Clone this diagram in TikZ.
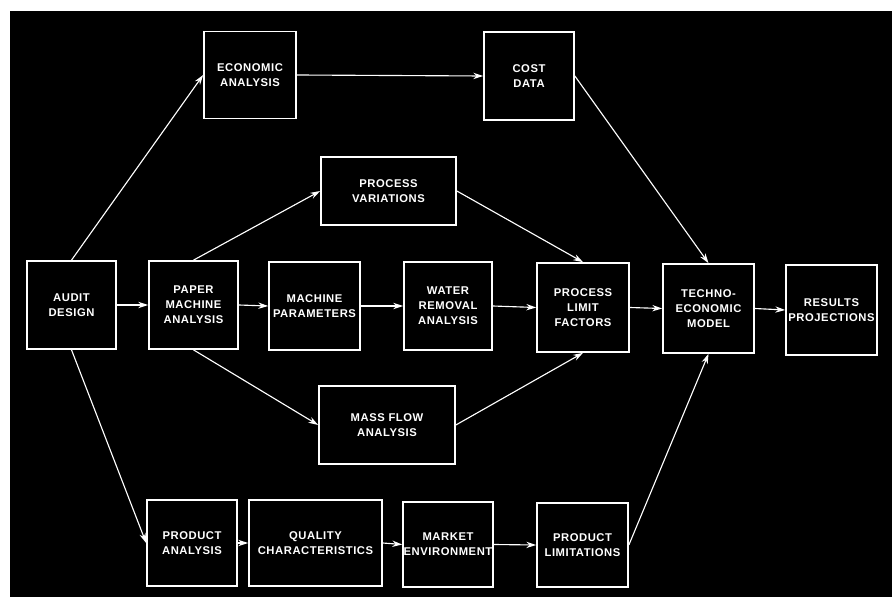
\documentclass[tikz,border=0pt]{standalone}
\usepackage{fontspec}
\setsansfont{Liberation Sans}[LetterSpace=5]
\usetikzlibrary{arrows.meta}

\begin{document}
\begin{tikzpicture}[x=0.025cm, y=-0.025cm,
		blk/.style={draw=white, line width=1.2pt, text=white, align=center, inner sep=0pt,
			font=\sffamily\bfseries\fontsize{8}{10.6}\selectfont},
		flow/.style={draw=white, line width=0.8pt, -{Stealth[length=7pt,width=4.5pt]}}]
		%background
		\fill[white] (0,0) rectangle (895,597);
		\fill[black] (10,11) rectangle (892,597);

		%top row
		\node[blk, minimum width=2.3cm, minimum height=2.175cm] (econ) at (250,75) {ECONOMIC\\ANALYSIS};
		\node[blk, minimum width=2.25cm, minimum height=2.2cm] (cost) at (529,76) {COST\\DATA};

		%middle row
		\node[blk, minimum width=3.375cm, minimum height=1.7cm] (var) at (388.5,191) {PROCESS\\VARIATIONS};
		\node[blk, minimum width=2.225cm, minimum height=2.2cm] (audit) at (71.5,305) {AUDIT\\DESIGN};
		\node[blk, minimum width=2.225cm, minimum height=2.2cm] (paper) at (193.5,305) {PAPER\\MACHINE\\ANALYSIS};
		\node[blk, minimum width=2.275cm, minimum height=2.2cm] (mach) at (314.5,306) {MACHINE\\PARAMETERS};
		\node[blk, minimum width=2.2cm, minimum height=2.2cm] (water) at (448,306) {WATER\\REMOVAL\\ANALYSIS};
		\node[blk, minimum width=2.3cm, minimum height=2.225cm] (limit) at (583,307.5) {PROCESS\\LIMIT\\FACTORS};
		\node[blk, minimum width=2.275cm, minimum height=2.225cm] (model) at (708.5,308.5) {TECHNO-\\ECONOMIC\\MODEL};
		\node[blk, minimum width=2.275cm, minimum height=2.25cm] (result) at (831.5,310) {RESULTS\\PROJECTIONS};
		\node[blk, minimum width=3.4cm, minimum height=1.95cm] (mass) at (387,425) {MASS FLOW\\ANALYSIS};

		%bottom row
		\node[blk, minimum width=2.25cm, minimum height=2.15cm] (prod) at (192,543) {PRODUCT\\ANALYSIS};
		\node[blk, minimum width=3.325cm, minimum height=2.15cm] (qual) at (315.5,543) {QUALITY\\CHARACTERISTICS};
		\node[blk, minimum width=2.25cm, minimum height=2.125cm] (market) at (448,544.5) {MARKET\\ENVIRONMENT};
		\node[blk, minimum width=2.275cm, minimum height=2.1cm] (plim) at (582.5,545) {PRODUCT\\LIMITATIONS};

		%connectors
		\draw[flow] (audit.north) -- (econ.west);
		\draw[flow] (econ.east) -- (cost.west);
		\draw[flow] (cost.east) -- (model.north);
		\draw[flow] (audit.east) -- (paper.west);
		\draw[flow] (paper.north) -- (var.west);
		\draw[flow] (paper.south) -- (mass.west);
		\draw[flow] (paper.east) -- (mach.west);
		\draw[flow] (mach.east) -- (water.west);
		\draw[flow] (water.east) -- (limit.west);
		\draw[flow] (var.east) -- (limit.north);
		\draw[flow] (mass.east) -- (limit.south);
		\draw[flow] (limit.east) -- (model.west);
		\draw[flow] (model.east) -- (result.west);
		\draw[flow] (audit.south) -- (prod.west);
		\draw[flow] (prod.east) -- (qual.west);
		\draw[flow] (qual.east) -- (market.west);
		\draw[flow] (market.east) -- (plim.west);
		\draw[flow] (plim.east) -- (model.south);
	\end{tikzpicture}
\end{document}
